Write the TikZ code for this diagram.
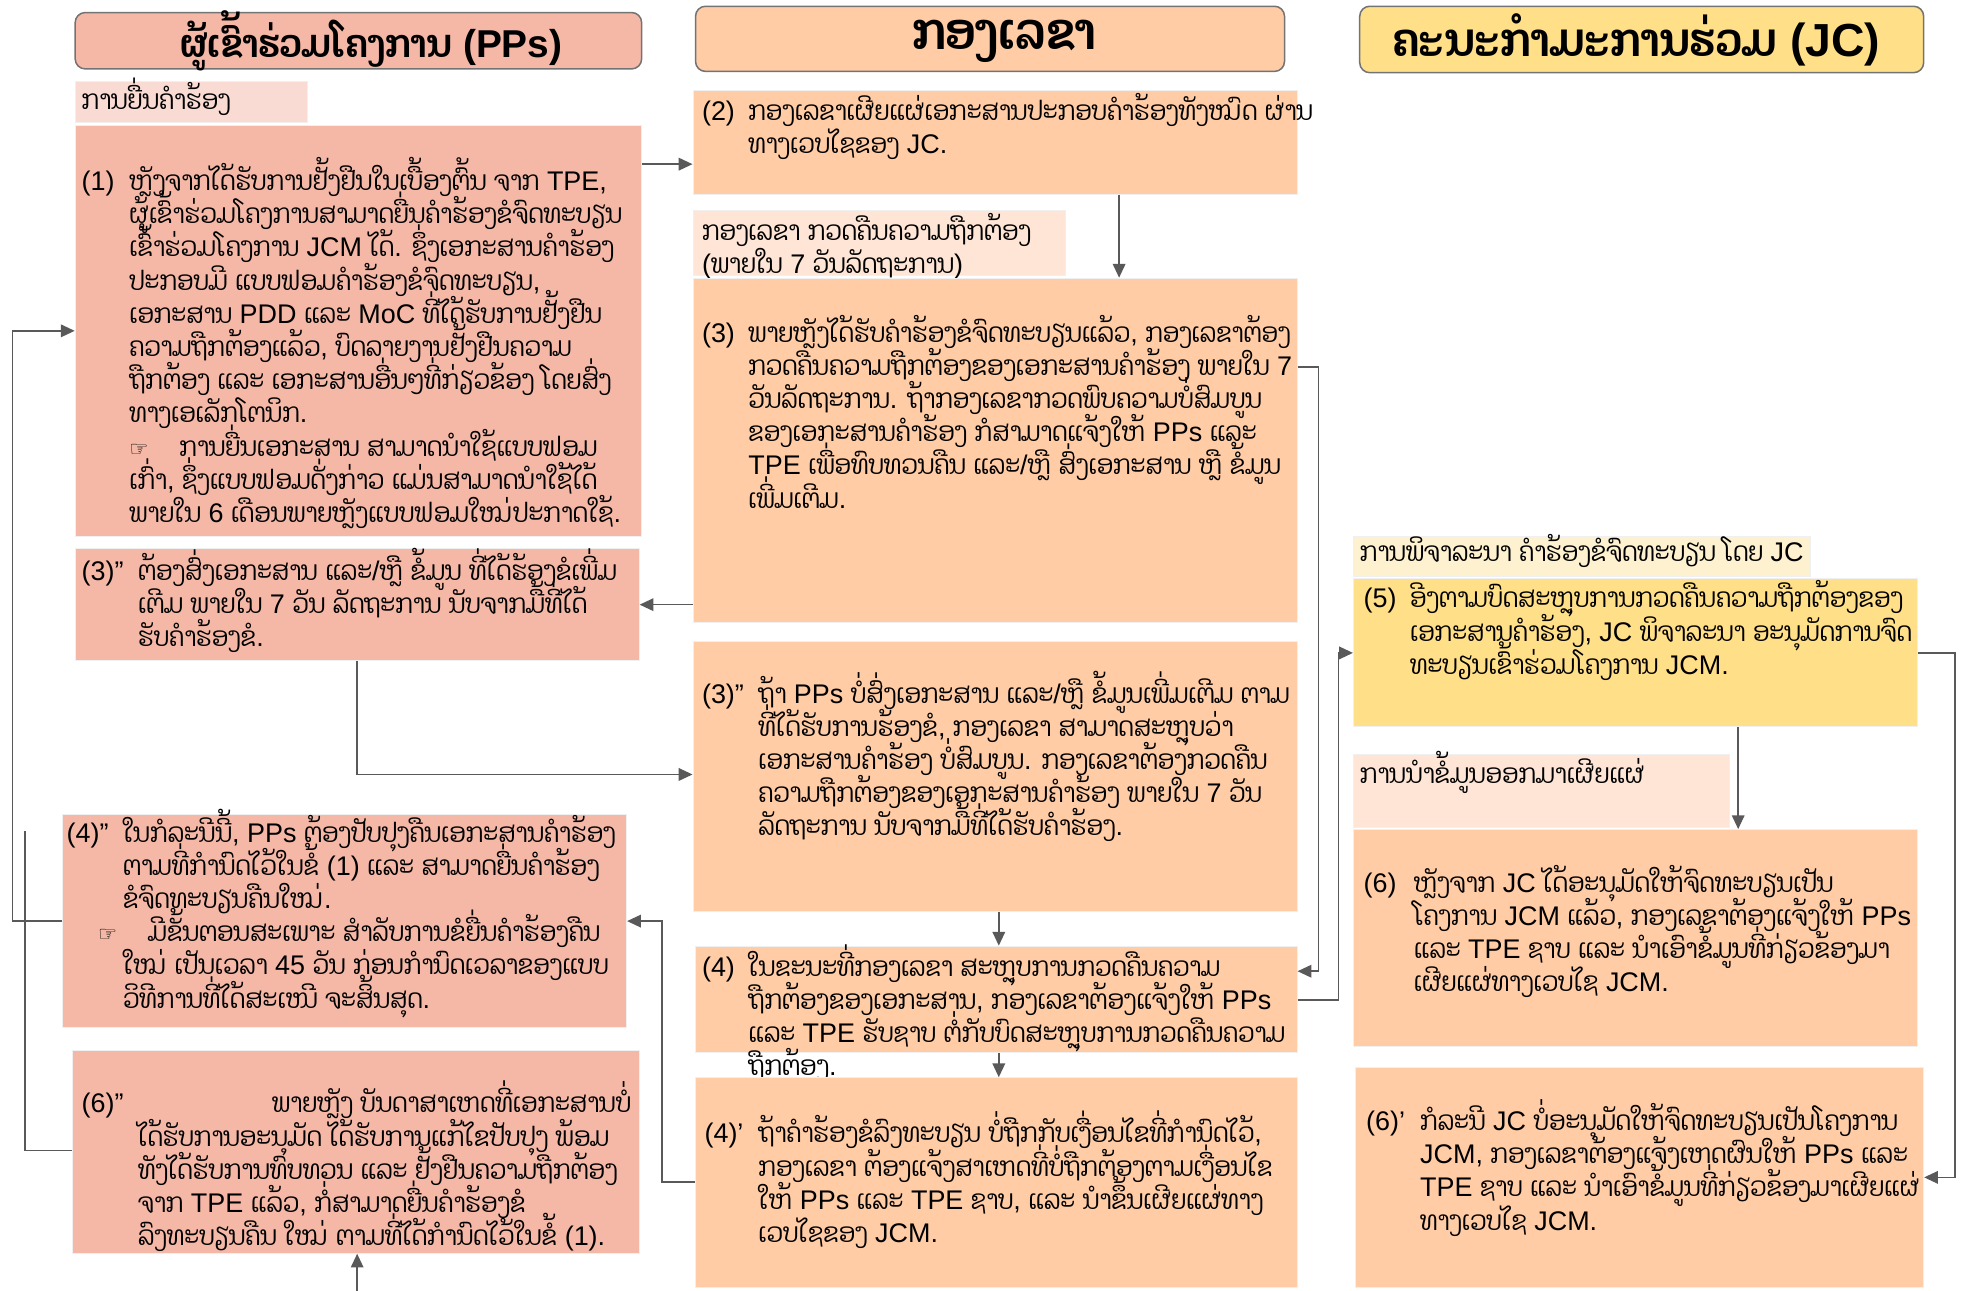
\documentclass[tikz,border=0pt]{standalone}
\usepackage{fontspec}
\setmainfont{Liberation Sans}
\newfontfamily\laofont[Script=Lao, FakeStretch=0.885]{Dhyana}
\newfontfamily\symfont{DejaVu Sans}
% Lao letters go to the Lao family automatically
\XeTeXinterchartokenstate=1
\newXeTeXintercharclass\laoclass
\newcount\lc
\lc="0E80
\loop\ifnum\lc<"0F00 \XeTeXcharclass\lc=\laoclass \advance\lc by 1 \repeat
\XeTeXinterchartoks 0 \laoclass={\begingroup\laofont}
\XeTeXinterchartoks 4095 \laoclass={\begingroup\laofont}
\XeTeXinterchartoks \laoclass 0={\endgroup}
\XeTeXinterchartoks \laoclass 4095={\endgroup}
\usepackage{tikz}
\usetikzlibrary{arrows.meta, fit}

\definecolor{ppfill}{HTML}{F5B8A7}
\definecolor{secfill}{HTML}{FFCCA6}
\definecolor{jcfill}{HTML}{FFDF88}
\definecolor{pplab}{HTML}{F9DBD4}
\definecolor{seclab}{HTML}{FEE5D5}
\definecolor{jclab}{HTML}{FDF1CF}
\definecolor{linegray}{HTML}{595959}

\newcommand{\entry}[3]{\parbox[t]{600pt}{\lineskiplimit=-40pt\hangindent=#1\hangafter=1\noindent\makebox[#1][l]{#2}#3}}
\newcommand{\point}{\makebox[40pt][l]{\symfont\fontsize{17pt}{17pt}\selectfont ☞}}

\tikzset{
  head/.style={draw=black!55, line width=1.2pt, rounded corners=8pt, inner sep=0pt},
  htxt/.style={inner sep=0pt, font=\fontsize{#1}{#1}\selectfont\bfseries},
  htxt/.default=31pt,
  blk/.style={draw=black!6, line width=0.8pt, inner sep=0pt},
  txt/.style={anchor=base west, inner sep=0pt, font=\fontsize{21.5pt}{26.5pt}\selectfont},
  arr/.style={->, draw=linegray, line width=1.3pt},
  wire/.style={draw=linegray, line width=1.3pt}
}

\begin{document}
\begin{tikzpicture}[x=1pt, y=-1pt, >={Triangle[length=11pt,width=10pt]}]
\useasboundingbox (0,0) rectangle (1568,1029.4);
% column headers
\node[head, fill=ppfill, fit={(60,10)(512,55)}] (ppH) {};
\node[htxt] (ppHt) at ([xshift=10pt]ppH.center) {ຜູ້ເຂົ້າຮ່ວມໂຄງການ (PPs)};
\node[head, fill=secfill, fit={(555,5)(1025,57)}] (secH) {};
\node[htxt=41pt] (secHt) at ([xshift=11pt,yshift=-2pt]secH.center) {ກອງເລຂາ};
\node[head, fill=jcfill, fit={(1085,5)(1535,58)}] (jcH) {};
\node[htxt=37pt] (jcHt) at ([xshift=-4pt]jcH.center) {ຄະນະກຳມະການຮ່ວມ (JC)};

% PPs column
\node[blk, fill=pplab, fit={(60,65)(245,98)}] (ppL) {};
\node[txt] (ppLt) at (65,87) {ການຍື່ນຄຳຮ້ອງ};
\node[blk, fill=ppfill, fit={(60,100)(512,428)}] (pp1) {};
\node[txt] (pp1t) at (65,152) {\entry{38pt}{(1)}{ຫຼັງຈາກໄດ້ຮັບການຢັ້ງຢືນໃນເບື້ອງຕົ້ນ ຈາກ TPE,\\
ຜູ້ເຂົ້າຮ່ວມໂຄງການສາມາດຍື່ນຄຳຮ້ອງຂໍຈົດທະບຽນ\\
ເຂົ້າຮ່ວມໂຄງການ JCM ໄດ້. ຊຶ່ງເອກະສານຄຳຮ້ອງ\\
ປະກອບມີ ແບບຟອມຄຳຮ້ອງຂໍຈົດທະບຽນ,\\
ເອກະສານ PDD ແລະ MoC ທີ່ໄດ້ຮັບການຢັ້ງຢືນ\\
ຄວາມຖືກຕ້ອງແລ້ວ, ບົດລາຍງານຢັ້ງຢືນຄວາມ\\
ຖືກຕ້ອງ ແລະ ເອກະສານອື່ນໆທີ່ກ່ຽວຂ້ອງ ໂດຍສົ່ງ\\
ທາງເອເລັກໂຕນິກ.\\
\point ການຍື່ນເອກະສານ ສາມາດນຳໃຊ້ແບບຟອມ\\
ເກົ່າ, ຊຶ່ງແບບຟອມດັ່ງກ່າວ ແມ່ນສາມາດນຳໃຊ້ໄດ້\\
ພາຍໃນ 6 ເດືອນພາຍຫຼັງແບບຟອມໃໝ່ປະກາດໃຊ້.}};
\node[blk, fill=ppfill, fit={(60,438)(510,527)}] (pp3) {};
\node[txt] (pp3t) at (65,463) {\entry{45pt}{(3)”}{ຕ້ອງສົ່ງເອກະສານ ແລະ/ຫຼື ຂໍ້ມູນ ທີ່ໄດ້ຮ້ອງຂໍເພີ່ມ\\
ເຕີມ ພາຍໃນ 7 ວັນ ລັດຖະການ ນັບຈາກມື້ທີ່ໄດ້\\
ຮັບຄຳຮ້ອງຂໍ.}};
\node[blk, fill=ppfill, fit={(50,650)(500,820)}] (pp4) {};
\node[txt] (pp4t) at (53,672) {\entry{45pt}{(4)”}{ໃນກໍລະນີນີ້, PPs ຕ້ອງປັບປຸງຄືນເອກະສານຄຳຮ້ອງ\\
ຕາມທີ່ກຳນົດໄວ້ໃນຂໍ້ (1) ແລະ ສາມາດຍື່ນຄຳຮ້ອງ\\
ຂໍຈົດທະບຽນຄືນໃໝ່.\\
\hspace*{-20pt}\point ມີຂັ້ນຕອນສະເພາະ ສຳລັບການຂໍຍື່ນຄຳຮ້ອງຄືນ\\
ໃໝ່ ເປັນເວລາ 45 ວັນ ກ່ອນກຳນົດເວລາຂອງແບບ\\
ວິທີການທີ່ໄດ້ສະເໜີ ຈະສິ້ນສຸດ.}};
\node[blk, fill=ppfill, fit={(58,838)(510,1000)}] (pp6) {};
\node[txt] (pp6t) at (65,888) {\entry{45pt}{(6)”}{\hspace*{107pt}ພາຍຫຼັງ ບັນດາສາເຫດທີ່ເອກະສານບໍ່\\
ໄດ້ຮັບການອະນຸມັດ ໄດ້ຮັບການແກ້ໄຂປັບປຸງ ພ້ອມ\\
ທັງໄດ້ຮັບການທົບທວນ ແລະ ຢັ້ງຢືນຄວາມຖືກຕ້ອງ\\
ຈາກ TPE ແລ້ວ, ກໍ່ສາມາດຍື່ນຄຳຮ້ອງຂໍ\\
ລົງທະບຽນຄືນ ໃໝ່ ຕາມທີ່ໄດ້ກຳນົດໄວ້ໃນຂໍ້ (1).}};

% secretariat column
\node[blk, fill=secfill, fit={(553,72)(1035,155)}] (sec2) {};
\node[txt] (sec2t) at (560,96) {\entry{37pt}{(2)}{ກອງເລຂາເຜີຍແຜ່ເອກະສານປະກອບຄຳຮ້ອງທັງໝົດ ຜ່ານ\\
ທາງເວບໄຊຂອງ JC.}};
\node[blk, fill=seclab, fit={(553,168)(850,220)}] (secL) {};
\node[txt] (secLt) at (560,192) {\entry{0pt}{}{ກອງເລຂາ ກວດຄືນຄວາມຖືກຕ້ອງ\\
(ພາຍໃນ 7 ວັນລັດຖະການ)}};
\node[blk, fill=secfill, fit={(553,222)(1035,497)}] (sec3) {};
\node[txt] (sec3t) at (560,273) {\entry{37pt}{(3)}{ພາຍຫຼັງໄດ້ຮັບຄຳຮ້ອງຂໍຈົດທະບຽນແລ້ວ, ກອງເລຂາຕ້ອງ\\
ກວດຄືນຄວາມຖືກຕ້ອງຂອງເອກະສານຄຳຮ້ອງ ພາຍໃນ 7\\
ວັນລັດຖະການ. ຖ້າກອງເລຂາກວດພົບຄວາມບໍ່ສົມບູນ\\
ຂອງເອກະສານຄຳຮ້ອງ ກໍສາມາດແຈ້ງໃຫ້ PPs ແລະ\\
TPE ເພື່ອທົບທວນຄືນ ແລະ/ຫຼື ສົ່ງເອກະສານ ຫຼື ຂໍ້ມູນ\\
ເພີ່ມເຕີມ.}};
\node[blk, fill=secfill, fit={(553,512)(1035,727)}] (sec3b) {};
\node[txt] (sec3bt) at (560,561) {\entry{45pt}{(3)”}{ຖ້າ PPs ບໍ່ສົ່ງເອກະສານ ແລະ/ຫຼື ຂໍ້ມູນເພີ່ມເຕີມ ຕາມ\\
ທີ່ໄດ້ຮັບການຮ້ອງຂໍ, ກອງເລຂາ ສາມາດສະຫຼຸບວ່າ\\
ເອກະສານຄຳຮ້ອງ ບໍ່ສົມບູນ. ກອງເລຂາຕ້ອງກວດຄືນ\\
ຄວາມຖືກຕ້ອງຂອງເອກະສານຄຳຮ້ອງ ພາຍໃນ 7 ວັນ\\
ລັດຖະການ ນັບຈາກມື້ທີ່ໄດ້ຮັບຄຳຮ້ອງ.}};
\node[blk, fill=secfill, fit={(555,755)(1035,840)}] (sec4) {};
\node[txt] (sec4t) at (560,779) {\entry{37pt}{(4)}{ໃນຂະນະທີ່ກອງເລຂາ ສະຫຼຸບການກວດຄືນຄວາມ\\
ຖືກຕ້ອງຂອງເອກະສານ, ກອງເລຂາຕ້ອງແຈ້ງໃຫ້ PPs\\
ແລະ TPE ຮັບຊາບ ຕໍ່ກັບບົດສະຫຼຸບການກວດຄືນຄວາມ\\
ຖືກຕ້ອງ.}};
\node[blk, fill=secfill, fit={(555,860)(1035,1027)}] (sec4b) {};
\node[txt] (sec4bt) at (562,912) {\entry{43pt}{(4)’}{ຖ້າຄຳຮ້ອງຂໍລົງທະບຽນ ບໍ່ຖືກກັບເງື່ອນໄຂທີ່ກຳນົດໄວ້,\\
ກອງເລຂາ ຕ້ອງແຈ້ງສາເຫດທີ່ບໍ່ຖືກຕ້ອງຕາມເງື່ອນໄຂ\\
ໃຫ້ PPs ແລະ TPE ຊາບ, ແລະ ນຳຂຶ້ນເຜີຍແຜ່ທາງ\\
ເວບໄຊຂອງ JCM.}};

% JC column
\node[blk, fill=jclab, fit={(1080,428)(1445,460)}] (jcL) {};
\node[txt] (jcLt) at (1085,448) {ການພິຈາລະນາ ຄຳຮ້ອງຂໍຈົດທະບຽນ ໂດຍ JC};
\node[blk, fill=jcfill, fit={(1080,462)(1530,580)}] (jc5) {};
\node[txt] (jc5t) at (1088,485) {\entry{37pt}{(5)}{ອີງຕາມບົດສະຫຼຸບການກວດຄືນຄວາມຖືກຕ້ອງຂອງ\\
ເອກະສານຄຳຮ້ອງ, JC ພິຈາລະນາ ອະນຸມັດການຈົດ\\
ທະບຽນເຂົ້າຮ່ວມໂຄງການ JCM.}};
\node[blk, fill=seclab, fit={(1080,602)(1380,660)}] (pubL) {};
\node[txt] (pubLt) at (1085,625) {ການນຳຂໍ້ມູນອອກມາເຜີຍແຜ່};
\node[blk, fill=secfill, fit={(1080,662)(1530,835)}] (jc6) {};
\node[txt] (jc6t) at (1088,712) {\entry{40pt}{(6)}{ຫຼັງຈາກ JC ໄດ້ອະນຸມັດໃຫ້ຈົດທະບຽນເປັນ\\
ໂຄງການ JCM ແລ້ວ, ກອງເລຂາຕ້ອງແຈ້ງໃຫ້ PPs\\
ແລະ TPE ຊາບ ແລະ ນຳເອົາຂໍ້ມູນທີ່ກ່ຽວຂ້ອງມາ\\
ເຜີຍແຜ່ທາງເວບໄຊ JCM.}};
\node[blk, fill=secfill, fit={(1082,852)(1535,1027)}] (jc6b) {};
\node[txt] (jc6bt) at (1090,902) {\entry{43pt}{(6)’}{ກໍລະນີ JC ບໍ່ອະນຸມັດໃຫ້ຈົດທະບຽນເປັນໂຄງການ\\
JCM, ກອງເລຂາຕ້ອງແຈ້ງເຫດຜົນໃຫ້ PPs ແລະ\\
TPE ຊາບ ແລະ ນຳເອົາຂໍ້ມູນທີ່ກ່ຽວຂ້ອງມາເຜີຍແຜ່\\
ທາງເວບໄຊ JCM.}};

% bends of the connectors
\coordinate (k1) at (0,131);
\coordinate (k2) at (893,0);
\coordinate (k3) at (285,618);
\coordinate (k4) at (797,0);
\coordinate (k5) at (1052,293);
\coordinate (k6) at (0,775);
\coordinate (k7) at (1068,798);
\coordinate (k8) at (1387,0);
\coordinate (k9) at (1560,0);
\coordinate (k10) at (528,943);
\coordinate (k11) at (10,0);
\coordinate (k12) at (20,918);
\coordinate (k13) at (20,663);
\coordinate (k14) at (285,1030);

% connectors
\draw[arr] (pp1.east |- k1) -- (sec2.west |- k1);
\draw[arr] (sec2.south -| k2) -- (sec3.north -| k2);
\draw[arr] (sec3.west |- pp3.east) -- (pp3.east);
\draw[arr] (pp3.south -| k3) -- (k3) -- (sec3b.west |- k3);
\draw[arr] (sec3b.south -| k4) -- (sec4.north -| k4);
\draw[arr] (sec4.south -| k4) -- (sec4b.north -| k4);
\draw[arr] (sec3.east |- k5) -- (k5) -- (k5 |- k6) -- (sec4.east |- k6);
\draw[arr] (sec4.east |- k7) -- (k7) -- (k7 |- jc5.west) -- (jc5.west);
\draw[arr] (jc5.south -| k8) -- (jc6.north -| k8);
\draw[arr] (jc5.east) -- (jc5.east -| k9) -- (k9 |- jc6b.east) -- (jc6b.east);
\draw[arr] (sec4b.west |- k10) -- (k10) -- (k10 |- pp4.east) -- (pp4.east);
\draw[arr] (pp4.west) -- (pp4.west -| k11) -- (k11 |- pp1.west) -- (pp1.west);
\draw[wire] (pp6.west |- k12) -- (k12) -- (k13);
\draw[arr] (k14) -- (pp6.south -| k14);
\end{tikzpicture}
\end{document}
